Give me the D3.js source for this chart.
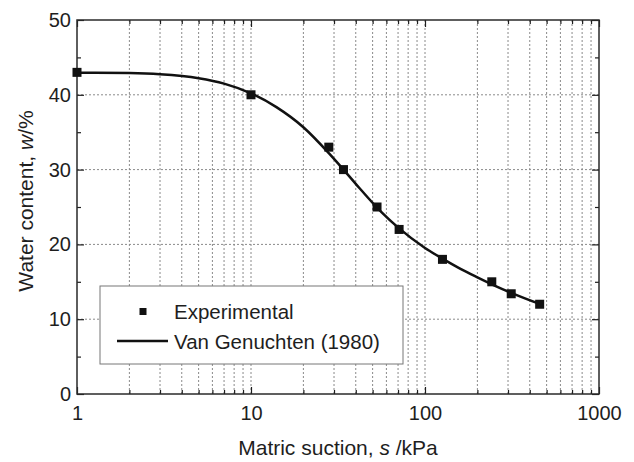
<!DOCTYPE html>
<html>
<head>
<meta charset="utf-8">
<script src="https://cdn.jsdelivr.net/npm/d3@7/dist/d3.min.js"></script>
<style>
  html, body { margin: 0; padding: 0; background: #fff; }
  svg { display: block; font-family: "Liberation Sans", Arial, sans-serif; }
</style>
</head>
<body>
<svg id="chart" width="634" height="462"></svg>
<script>
// Measured water content at each matric suction
const suctionExp = [1, 10, 28, 34, 53, 71, 126, 242, 313, 456];
const waterExp   = [43, 40, 33, 30, 25, 22, 18, 15, 13.4, 12];

// Van Genuchten (1980) fitted curve, sampled along suction
const suctionFit = [1, 2, 3, 5, 7, 10, 14, 20, 28, 34, 40, 56, 71, 100, 126, 158, 200, 251, 313, 456];
const waterFit   = [42.95, 42.9, 42.75, 42.22, 41.5, 40.2, 38.35, 35.66, 32.2, 30.0, 28.1, 24.35, 22.14, 19.53, 18.1, 16.8, 15.6, 14.5, 13.53, 12.04];

// Axis ticks
const xMajorTicks = [1, 10, 100, 1000];
const xMinorTicks = [2,3,4,5,6,7,8,9, 20,30,40,50,60,70,80,90, 200,300,400,500,600,700,800,900];
const yMajorTicks = [0, 10, 20, 30, 40, 50];
const yMinorTicks = [5, 15, 25, 35, 45];
const yGridTicks  = [10, 20, 30, 40];

const legendLabels = ["Experimental", "Van Genuchten (1980)"];

const svg = d3.select("#chart");
const plotL = 77, plotR = 599, plotT = 20, plotB = 394;

const x = d3.scaleLog().domain([1, 1000]).range([plotL, plotR]);
const y = d3.scaleLinear().domain([0, 50]).range([plotB, plotT]);

const gridColor = "#8a8a8a";
const ink = "#1e1e1e";

// Dotted grid
const grid = svg.append("g");
grid.selectAll("line.v")
  .data(xMinorTicks.concat([10, 100]))
  .join("line")
  .attr("x1", d => x(d)).attr("x2", d => x(d))
  .attr("y1", plotT).attr("y2", plotB)
  .attr("stroke", gridColor).attr("stroke-width", 1)
  .attr("stroke-dasharray", "2,2");
grid.selectAll("line.h")
  .data(yGridTicks)
  .join("line")
  .attr("x1", plotL).attr("x2", plotR)
  .attr("y1", d => y(d)).attr("y2", d => y(d))
  .attr("stroke", gridColor).attr("stroke-width", 1)
  .attr("stroke-dasharray", "2,2");

// Axes with inward ticks on all four sides
function styleAxis(g) {
  g.select(".domain").remove();
  g.selectAll(".tick line").attr("stroke", ink).attr("stroke-width", 1.2);
  g.selectAll("text").attr("fill", ink).attr("font-size", 20)
    .attr("font-family", "Liberation Sans, Arial, sans-serif");
}

svg.append("g").attr("transform", `translate(0,${plotB})`)
  .call(d3.axisBottom(x).tickValues(xMajorTicks).tickSize(-7).tickPadding(12)
    .tickFormat(d3.format("d")))
  .call(styleAxis);
svg.append("g").attr("transform", `translate(0,${plotB})`)
  .call(d3.axisBottom(x).tickValues(xMinorTicks).tickSize(-4).tickFormat(""))
  .call(styleAxis);
svg.append("g").attr("transform", `translate(0,${plotT})`)
  .call(d3.axisTop(x).tickValues(xMajorTicks).tickSize(-7).tickFormat(""))
  .call(styleAxis);
svg.append("g").attr("transform", `translate(0,${plotT})`)
  .call(d3.axisTop(x).tickValues(xMinorTicks).tickSize(-4).tickFormat(""))
  .call(styleAxis);

svg.append("g").attr("transform", `translate(${plotL},0)`)
  .call(d3.axisLeft(y).tickValues(yMajorTicks).tickSize(-7).tickPadding(6)
    .tickFormat(d3.format("d")))
  .call(styleAxis);
svg.append("g").attr("transform", `translate(${plotL},0)`)
  .call(d3.axisLeft(y).tickValues(yMinorTicks).tickSize(-4).tickFormat(""))
  .call(styleAxis);
svg.append("g").attr("transform", `translate(${plotR},0)`)
  .call(d3.axisRight(y).tickValues(yMajorTicks).tickSize(-7).tickFormat(""))
  .call(styleAxis);
svg.append("g").attr("transform", `translate(${plotR},0)`)
  .call(d3.axisRight(y).tickValues(yMinorTicks).tickSize(-4).tickFormat(""))
  .call(styleAxis);

// Frame
svg.append("rect")
  .attr("x", plotL).attr("y", plotT)
  .attr("width", plotR - plotL).attr("height", plotB - plotT)
  .attr("fill", "none").attr("stroke", "#2a2a2a").attr("stroke-width", 1.5);

// Fitted curve
const fit = suctionFit.map((s, i) => [s, waterFit[i]]);
svg.append("path")
  .datum(fit)
  .attr("d", d3.line().x(d => x(d[0])).y(d => y(d[1])).curve(d3.curveMonotoneX))
  .attr("fill", "none").attr("stroke", "#111").attr("stroke-width", 2.5);

// Experimental points
const exp = suctionExp.map((s, i) => [s, waterExp[i]]);
const ms = 9;
svg.append("g").selectAll("rect")
  .data(exp)
  .join("rect")
  .attr("x", d => x(d[0]) - ms / 2)
  .attr("y", d => y(d[1]) - ms / 2)
  .attr("width", ms).attr("height", ms)
  .attr("fill", "#111");

// Legend
const lg = svg.append("g");
lg.append("rect")
  .attr("x", 100).attr("y", 286).attr("width", 303).attr("height", 78)
  .attr("fill", "#fff").attr("stroke", "#777").attr("stroke-width", 1);
lg.append("rect")
  .attr("x", 143 - 3.5).attr("y", 311.5 - 3.5).attr("width", 7).attr("height", 7)
  .attr("fill", "#111");
lg.append("line")
  .attr("x1", 117).attr("x2", 168).attr("y1", 341).attr("y2", 341)
  .attr("stroke", "#111").attr("stroke-width", 2.5);
lg.selectAll("text")
  .data(legendLabels)
  .join("text")
  .attr("x", 174)
  .attr("y", (d, i) => 319 + i * 30)
  .attr("font-size", 20.5)
  .attr("fill", ink)
  .text(d => d);

// Axis titles
const xt = svg.append("text")
  .attr("x", 338).attr("y", 455)
  .attr("text-anchor", "middle")
  .attr("font-size", 21).attr("fill", ink);
xt.append("tspan").text("Matric suction, ");
xt.append("tspan").attr("font-style", "italic").text("s");
xt.append("tspan").text(" /kPa");

const yt = svg.append("text")
  .attr("transform", "translate(33,201) rotate(-90)")
  .attr("text-anchor", "middle")
  .attr("font-size", 21).attr("fill", ink);
yt.append("tspan").text("Water content, ");
yt.append("tspan").attr("font-style", "italic").text("w");
yt.append("tspan").text("/%");
</script>
</body>
</html>
